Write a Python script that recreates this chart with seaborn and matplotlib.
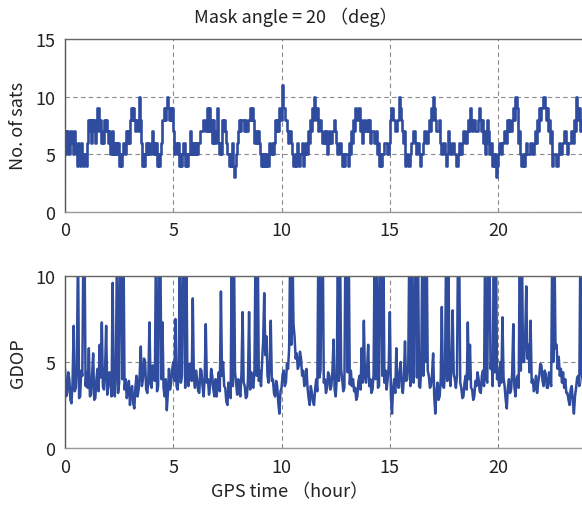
import numpy as np
import pandas as pd
import matplotlib
matplotlib.use("Agg")
import matplotlib.pyplot as plt
import seaborn as sns

# satellite count, one value every 0.05 h, one row per hour
sats = [
    7, 5, 7, 6, 5, 7, 6, 5, 7, 6, 5, 4, 6, 5, 4, 6, 5, 4, 5, 4,
    6, 8, 7, 8, 6, 8, 7, 8, 6, 7, 9, 7, 8, 6, 7, 6, 8, 7, 8, 7,
    6, 7, 5, 7, 5, 6, 5, 6, 5, 6, 4, 5, 4, 5, 6, 5, 7, 6, 7, 6,
    8, 9, 8, 9, 8, 7, 8, 7, 10, 8, 6, 4, 5, 4, 5, 6, 5, 6, 5, 6,
    7, 5, 6, 5, 6, 4, 5, 4, 5, 6, 8, 9, 8, 9, 10, 9, 8, 9, 8, 9,
    7, 5, 6, 5, 6, 4, 5, 4, 5, 6, 6, 4, 5, 4, 5, 7, 5, 6, 5, 6,
    5, 6, 5, 6, 6, 7, 7, 8, 8, 7, 7, 9, 7, 9, 7, 8, 6, 8, 6, 7,
    9, 6, 5, 6, 5, 8, 7, 8, 7, 6, 5, 4, 5, 4, 6, 4, 3, 4, 5, 6,
    7, 8, 7, 8, 8, 7, 8, 7, 7, 8, 8, 9, 8, 9, 8, 6, 7, 6, 7, 6,
    5, 4, 5, 4, 5, 4, 5, 4, 6, 5, 5, 6, 5, 6, 8, 7, 8, 7, 9, 8,
    11, 9, 9, 8, 8, 7, 6, 7, 7, 6, 5, 4, 5, 4, 6, 5, 4, 5, 5, 6,
    4, 5, 6, 5, 7, 6, 8, 7, 9, 8, 10, 9, 8, 9, 7, 8, 7, 6, 6, 7,
    6, 7, 5, 6, 7, 6, 6, 7, 8, 7, 6, 5, 5, 6, 6, 5, 4, 5, 4, 5,
    5, 4, 6, 5, 7, 6, 8, 7, 9, 8, 8, 9, 7, 8, 6, 7, 8, 7, 7, 8,
    7, 8, 6, 7, 7, 6, 6, 7, 5, 6, 4, 5, 4, 5, 5, 6, 6, 5, 5, 6,
    8, 9, 9, 8, 8, 7, 7, 8, 10, 9, 8, 7, 6, 7, 4, 5, 5, 4, 4, 5,
    6, 7, 7, 6, 5, 6, 6, 5, 4, 5, 5, 6, 7, 6, 6, 7, 8, 7, 9, 8,
    10, 9, 8, 7, 7, 8, 6, 5, 5, 6, 6, 5, 4, 5, 7, 6, 5, 6, 6, 5,
    5, 4, 4, 5, 6, 5, 5, 6, 7, 6, 6, 7, 8, 7, 9, 8, 7, 8, 8, 7,
    7, 8, 9, 8, 7, 8, 6, 7, 5, 6, 8, 7, 5, 6, 4, 5, 4, 5, 3, 4,
    5, 6, 6, 5, 6, 7, 7, 6, 8, 7, 8, 7, 7, 8, 9, 8, 10, 9, 6, 7,
    5, 4, 4, 5, 4, 5, 6, 5, 5, 6, 6, 5, 5, 6, 7, 6, 8, 7, 9, 8,
    9, 10, 10, 9, 8, 9, 7, 8, 6, 7, 4, 5, 5, 4, 4, 5, 6, 5, 5, 6,
    6, 7, 7, 6, 5, 6, 6, 7, 7, 6, 8, 7, 10, 9, 8, 9, 7, 8, 6, 7,
    6,
]

# GDOP, one value every 0.05 h; spikes above 10 are cut by the axis
gdop = [
    4.6, 3.0, 3.2, 4.4, 4.0, 2.8, 2.6, 3.9, 7.1, 3.3, 3.5, 4.8, 12, 2.9, 3.0, 4.5, 4.2, 12, 12, 3.6,
    4.4, 3.5, 5.8, 3.0, 3.1, 4.2, 5.5, 2.8, 2.9, 4.0, 4.6, 3.3, 6.0, 4.1, 7.3, 3.6, 3.4, 4.5, 7.1, 3.1,
    3.6, 4.4, 4.0, 3.0, 9.6, 3.5, 3.0, 4.6, 12, 3.2, 3.8, 12, 12, 4.0, 12, 3.4, 4.0, 2.9, 3.2, 3.9,
    2.5, 3.4, 3.6, 2.6, 2.3, 3.5, 4.2, 3.0, 3.4, 4.3, 5.9, 3.6, 4.0, 5.2, 5.0, 3.4, 3.2, 4.1, 7.3, 3.7,
    3.5, 4.8, 4.6, 3.9, 12, 3.3, 3.6, 12, 12, 4.0, 7.3, 3.5, 3.0, 4.0, 2.2, 3.2, 4.6, 3.4, 3.8, 4.6,
    5.0, 3.9, 7.5, 3.6, 3.4, 4.4, 12, 3.8, 4.2, 12, 12, 3.5, 12, 4.4, 3.6, 4.9, 4.8, 3.9, 8.7, 4.1,
    3.5, 4.5, 4.0, 3.3, 3.2, 4.6, 4.5, 3.6, 3.0, 4.1, 7.2, 3.8, 4.0, 3.1, 3.6, 4.6, 4.2, 3.4, 3.0, 4.0,
    3.0, 3.8, 4.4, 3.3, 9.1, 4.2, 5.0, 3.6, 3.5, 2.7, 2.5, 3.8, 3.4, 2.9, 12, 3.6, 12, 4.4, 3.8, 3.1,
    4.0, 3.2, 3.0, 4.4, 7.9, 3.8, 3.6, 2.9, 3.0, 4.0, 7.9, 3.4, 4.4, 3.6, 3.5, 4.6, 12, 4.2, 12, 3.9,
    4.5, 3.6, 5.0, 6.2, 9.0, 5.4, 6.5, 4.2, 3.8, 4.9, 7.4, 3.9, 4.0, 3.2, 3.0, 3.9, 3.6, 2.6, 2.0, 3.3,
    3.5, 4.3, 4.5, 3.6, 3.8, 4.9, 4.6, 5.8, 12, 6.0, 12, 7.2, 6.5, 5.2, 5.5, 4.6, 4.8, 5.6, 5.2, 4.2,
    4.5, 3.6, 3.8, 4.6, 3.5, 2.9, 2.5, 3.6, 3.2, 2.7, 2.5, 3.4, 4.0, 3.3, 12, 4.1, 4.5, 12, 12, 3.8,
    4.0, 3.2, 3.5, 4.4, 4.2, 3.4, 3.6, 4.5, 6.3, 3.4, 3.0, 4.1, 12, 3.9, 12, 4.6, 4.0, 3.3, 3.5, 12,
    12, 4.4, 12, 3.7, 4.5, 3.6, 4.0, 3.3, 3.5, 2.8, 3.0, 3.9, 4.2, 3.4, 5.8, 3.8, 7.4, 4.2, 3.8, 4.6,
    6.0, 3.6, 4.0, 3.2, 3.4, 4.3, 12, 4.0, 12, 3.5, 3.6, 12, 12, 4.2, 12, 3.8, 4.5, 3.4, 4.0, 4.8,
    7.9, 3.0, 2.0, 3.5, 4.0, 3.2, 5.8, 3.7, 3.5, 4.4, 5.0, 3.6, 3.2, 4.1, 6.2, 3.9, 4.0, 4.8, 12, 3.6,
    12, 4.4, 3.8, 12, 12, 4.1, 12, 3.6, 3.5, 4.6, 12, 4.2, 12, 5.0, 12, 4.5, 4.2, 3.5, 3.6, 4.3,
    5.5, 3.0, 2.0, 3.3, 3.8, 2.8, 3.0, 4.0, 8.2, 3.6, 3.5, 4.5, 12, 3.9, 12, 4.4, 3.6, 5.0, 8.0, 4.3,
    4.0, 3.5, 4.2, 12, 12, 3.8, 3.5, 2.9, 3.0, 3.8, 4.2, 3.4, 7.3, 4.0, 6.0, 3.5, 3.4, 2.8, 3.0, 3.9,
    3.6, 4.4, 4.0, 3.3, 3.2, 4.2, 4.5, 3.6, 12, 4.0, 3.8, 12, 12, 4.6, 5.2, 3.6, 12, 4.4, 12, 4.0,
    4.5, 3.6, 5.0, 3.8, 7.6, 4.1, 3.6, 2.8, 2.3, 3.5, 4.0, 3.2, 3.4, 4.4, 7.2, 3.6, 3.0, 4.0, 4.2, 3.5,
    12, 4.5, 12, 5.0, 5.0, 6.4, 9.4, 5.2, 6.0, 4.4, 7.4, 3.8, 4.0, 3.3, 3.5, 4.2, 3.2, 3.8, 4.2, 4.9,
    4.8, 3.9, 3.6, 4.5, 4.3, 3.5, 3.5, 4.4, 4.0, 3.6, 12, 5.0, 12, 5.8, 6.0, 4.6, 5.3, 4.2, 4.6, 3.8,
    4.4, 3.5, 4.0, 3.2, 3.2, 2.8, 2.5, 3.4, 3.6, 2.7, 2.0, 3.0, 3.5, 4.1, 4.2, 3.6, 12, 4.5, 4.0, 3.4,
    3.8,
]

step = 0.05
xticks = [0, 5, 10, 15, 20]

sats_df = pd.DataFrame({"hour": np.arange(len(sats)) * step, "sats": sats})
gdop_df = pd.DataFrame({"hour": np.arange(len(gdop)) * step, "gdop": gdop})

sns.set_theme(style="white")
plt.rcParams["font.family"] = ["Noto Sans CJK JP", "DejaVu Sans"]

line_color = "#2f4c9e"
fig = plt.figure(figsize=(5.82, 5.06), dpi=100)
ax1 = fig.add_axes([0.1117, 0.5796, 0.893, 0.3413])
ax2 = fig.add_axes([0.1117, 0.1126, 0.893, 0.3400])

sns.lineplot(data=sats_df, x="hour", y="sats", ax=ax1, color=line_color,
             linewidth=1.9, drawstyle="steps-post", estimator=None, sort=False)
sns.lineplot(data=gdop_df, x="hour", y="gdop", ax=ax2, color=line_color,
             linewidth=1.8, estimator=None, sort=False)

ax1.set_ylim(0, 15)
ax1.set_yticks([0, 5, 10, 15])
ax2.set_ylim(0, 10)
ax2.set_yticks([0, 5, 10])

for ax in (ax1, ax2):
    ax.set_xlim(0, 24)
    ax.set_xticks(xticks)
    ax.grid(True, axis="both", color="#8a8a8a", linestyle=(0, (4, 3)), linewidth=0.8)
    ax.set_axisbelow(True)
    ax.tick_params(length=0, labelsize=13, colors="#222222")
    ax.tick_params(axis="x", pad=7)
    ax.tick_params(axis="y", pad=7)
    ax.spines["left"].set_color("#555555")
    ax.spines["top"].set_color("#666666")
    ax.spines["bottom"].set_color("#999999")
    ax.spines["right"].set_visible(False)
    for s in ("left", "top", "bottom"):
        ax.spines[s].set_linewidth(1.0)
    ax.set_xlabel("")

ax1.set_ylabel("No. of sats", fontsize=13, color="#222222", labelpad=6)
ax2.set_ylabel("GDOP", fontsize=13, color="#222222", labelpad=6)

fig.text(296 / 582, 1 - 17 / 506, "Mask angle = 20 （deg）", ha="center", va="center",
         fontsize=13, color="#222222")
fig.text(290 / 582, 1 - 492 / 506, "GPS time （hour）", ha="center", va="center",
         fontsize=13, color="#222222")

fig.savefig("out.png", dpi=100)
